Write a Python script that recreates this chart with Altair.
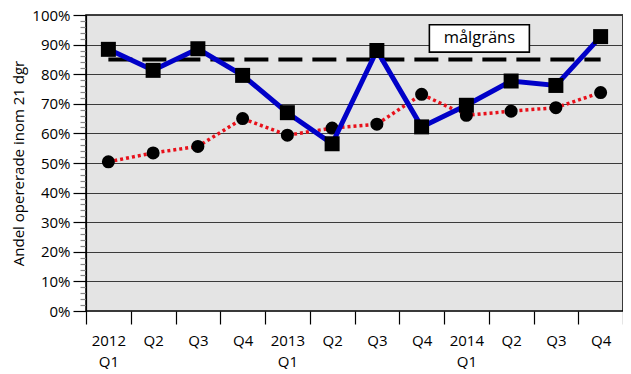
import json
import altair as alt
import pandas as pd

quarters = ["2012 Q1", "2012 Q2", "2012 Q3", "2012 Q4",
            "2013 Q1", "2013 Q2", "2013 Q3", "2013 Q4",
            "2014 Q1", "2014 Q2", "2014 Q3", "2014 Q4"]
tick_labels = [["2012", "Q1"], ["Q2"], ["Q3"], ["Q4"],
               ["2013", "Q1"], ["Q2"], ["Q3"], ["Q4"],
               ["2014", "Q1"], ["Q2"], ["Q3"], ["Q4"]]
blue_values = [88.4, 81.3, 88.6, 79.6, 67.0, 56.5, 88.0, 62.2, 69.5, 77.7, 76.2, 92.7]
red_values = [50.4, 53.4, 55.6, 65.0, 59.4, 61.8, 63.1, 73.2, 66.1, 67.5, 68.7, 73.8]
target_value = 85
target_label = "målgräns"
y_title = "Andel opererade inom 21 dgr"

FONT = "Open Sans"

df_blue = pd.DataFrame({"q": quarters, "v": blue_values})
df_red = pd.DataFrame({"q": quarters, "v": red_values})
df_target = pd.DataFrame({"q": [quarters[0], quarters[-1]], "v": [target_value, target_value]})
df_label = pd.DataFrame({"q": ["2014 Q1"], "v": [92.1], "label": [target_label]})

label_expr = (json.dumps(tick_labels) + "[indexof(" + json.dumps(quarters) + ", datum.label)]").replace('"', "'")

x_enc = alt.X(
    "q:N", sort=quarters, title=None,
    scale=alt.Scale(type="band", paddingInner=0, paddingOuter=0, domain=quarters),
    axis=alt.Axis(
        tickBand="extent", tickSize=13, tickColor="black", tickWidth=1.2,
        labelAngle=0, labelPadding=9, labelExpr=label_expr, labelLineHeight=21,
        labelFont=FONT, labelFontSize=15, labelColor="black", domain=False,
        grid=False,
    ),
)
y_enc = alt.Y(
    "v:Q", title=y_title,
    scale=alt.Scale(domain=[0, 100], nice=False),
    axis=alt.Axis(
        values=list(range(0, 101, 2)),
        labelExpr="datum.value % 10 === 0 ? datum.value + '%' : ''",
        labelFont=FONT, labelFontSize=15, labelColor="black", labelPadding=3,
        tickSize={"condition": {"test": "datum.value % 10 === 0", "value": 13}, "value": 6},
        tickColor={"condition": {"test": "datum.value % 10 === 0", "value": "black"}, "value": "#888888"},
        tickWidth=1.2,
        grid=True,
        gridColor="#3a3a3a", gridWidth=1.2,
        gridOpacity={"condition": {"test": "datum.value % 10 === 0", "value": 1}, "value": 0},
        domainColor="black", domainWidth=1.2,
        titleFont=FONT, titleFontSize=15, titleFontWeight="normal", titleColor="black",
        titlePadding=5,
    ),
)

target_line = alt.Chart(df_target).mark_line(
    color="black", strokeWidth=4, strokeDash=[24, 10]
).encode(x=x_enc, y=y_enc)

red_line = alt.Chart(df_red).mark_line(
    color="#e8101a", strokeWidth=3.5, strokeDash=[3, 3]
).encode(x=x_enc, y=y_enc)
red_pts = alt.Chart(df_red).mark_circle(size=170, color="black", opacity=1).encode(x=x_enc, y=y_enc)

blue_line = alt.Chart(df_blue).mark_line(color="#0000c8", strokeWidth=5).encode(x=x_enc, y=y_enc)
blue_pts = alt.Chart(df_blue).mark_square(size=225, color="black", opacity=1).encode(x=x_enc, y=y_enc)

label_box = alt.Chart(df_label).mark_point(
    shape="M-0.74,-0.274H1.26V0.274H-0.74Z", size=10000, filled=True,
    fill="white", stroke="black", strokeWidth=1.6, opacity=1, fillOpacity=1, strokeOpacity=1,
).encode(x=x_enc, y=y_enc)
label_text = alt.Chart(df_label).mark_text(
    font=FONT, fontSize=16.5, color="black", dx=13, baseline="middle", align="center"
).encode(x=x_enc, y=y_enc, text="label:N")

chart = alt.layer(
    target_line, red_line, red_pts, blue_line, blue_pts, label_box, label_text
).properties(
    width=537, height=296,
    autosize=alt.AutoSizeParams(type="none"),
    padding={"left": 78, "top": 7, "right": 0, "bottom": 58},
    background="white",
).configure_view(
    fill="#e4e4e4", stroke="black", strokeWidth=1.5
)

chart.save("out.html", embed_options={"renderer": "svg", "actions": False})
